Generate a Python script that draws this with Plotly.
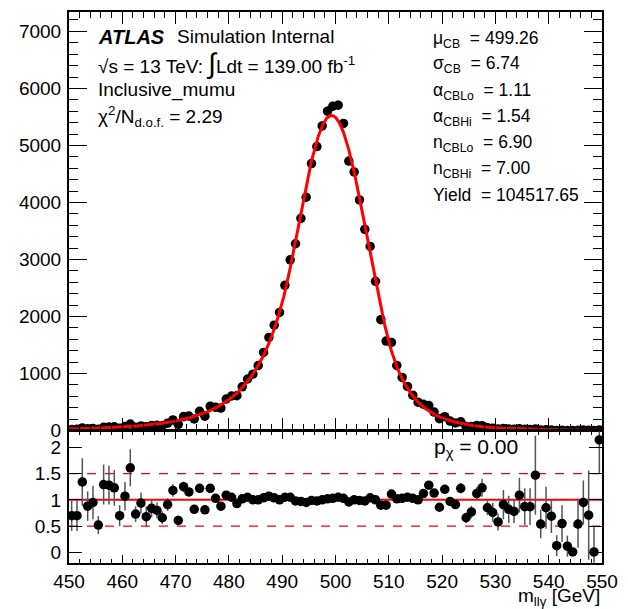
import numpy as np
import plotly.graph_objects as go

# ---------------- data ----------------
bin_low, bin_high, bin_width = 450.0, 550.0, 1.0
mass = np.arange(bin_low + bin_width / 2, bin_high, bin_width)

counts = [18.4, 20.0, 41.7, 29.8, 35.2, 21.0, 56.9, 61.7, 64.9, 40.6,
          68.2, 112.7, 56.3, 79.9, 63.8, 87.2, 91.9, 84.1, 128.8, 185.9,
          107.1, 244.9, 252.0, 201.3, 336.2, 251.1, 426.1, 406.4, 392.9, 552.2,
          604.9, 610.7, 765.5, 903, 988, 1139, 1369, 1632, 1846, 2071,
          2547, 2994, 3275, 3721, 4091, 4682, 4980, 5341, 5601, 5688,
          5705, 5386, 4726, 4534, 4044, 3528, 3228, 2617, 1943, 1568,
          1544, 1140, 931, 772, 620, 496, 460, 437, 322, 206,
          242, 166, 132, 151, 70, 70, 87.8, 83.4, 49.9, 38.8,
          25.8, 35.4, 28.0, 23.3, 28.8, 20.3, 17.9, 26.8, 8.7, 12.2,
          8.9, 1.5, 5.7, 1.1, 0.1, 4.0, 6.4, 4.3, 0.05, 10.5]

count_err = [7.6, 8.3, 14, 9.5, 11.8, 6.9, 16.8, 17.8, 18, 11.6,
             17.2, 24.5, 11.6, 17, 18.8, 17.6, 17.2, 15.3, 17, 18.9,
             15.8, 19.6, 17.5, 19.6, 19.3, 21.7, 21, 19.7, 22.3, 20.3,
             23, 23, 22.5, 25.8, 24.7, 28.5, 26.3, 30.5, 35.5, 41.4,
             48.5, 42.8, 50, 57.5, 64.6, 70.9, 76.2, 80.1, 82.4, 82.8,
             81.5, 78.4, 73.8, 68, 61.3, 54, 46.6, 39.3, 43.2, 34.9,
             27.8, 22.3, 18.1, 22.1, 18.1, 14.9, 16.4, 17.1, 14.3, 12,
             12.1, 12, 11.6, 12.4, 10.6, 10.9, 9.4, 11.5, 8.2, 9.2,
             7.1, 10.9, 8.9, 6.6, 8.7, 8.2, 7.2, 13.7, 4.4, 5.8,
             4.1, 2.3, 3.6, 1.8, 0.4, 3.3, 2.8, 5.1, 2.8, 3.2]

ratio = [0.70, 0.70, 1.34, 0.88, 0.95, 0.52, 1.29, 1.28, 1.23, 0.70,
         1.07, 1.61, 0.73, 0.94, 0.68, 0.84, 0.80, 0.66, 0.91, 1.18,
         0.61, 1.25, 1.15, 0.82, 1.22, 0.81, 1.22, 1.03, 0.88, 1.09,
         1.05, 0.93, 1.02, 1.05, 1.00, 1.00, 1.04, 1.07, 1.04, 1.00,
         1.05, 1.05, 0.98, 0.97, 0.95, 0.99, 0.98, 1.00, 1.02, 1.03,
         1.05, 1.03, 0.96, 1.00, 0.99, 0.98, 1.04, 1.00, 0.90, 0.90,
         1.11, 1.02, 1.03, 1.05, 1.03, 1.00, 1.12, 1.28, 1.13, 0.86,
         1.20, 0.97, 0.91, 1.22, 0.66, 0.77, 1.12, 1.23, 0.85, 0.76,
         0.58, 0.91, 0.82, 0.78, 1.09, 0.87, 0.87, 1.47, 0.54, 0.85,
         0.69, 0.13, 0.55, 0.12, 0.01, 0.54, 0.95, 0.71, 0.01, 2.14]

ratio_err = [0.29, 0.29, 0.45, 0.28, 0.32, 0.17, 0.38, 0.37, 0.34, 0.20,
             0.27, 0.35, 0.15, 0.20, 0.20, 0.17, 0.15, 0.12, 0.12, 0.12,
             0.09, 0.10, 0.08, 0.08, 0.07, 0.07, 0.06, 0.05, 0.05, 0.04,
             0.04, 0.035, 0.03, 0.03, 0.025, 0.025, 0.02, 0.02, 0.02, 0.02,
             0.02, 0.015, 0.015, 0.015, 0.015, 0.015, 0.015, 0.015, 0.015, 0.015,
             0.015, 0.015, 0.015, 0.015, 0.015, 0.015, 0.015, 0.015, 0.02, 0.02,
             0.02, 0.02, 0.02, 0.03, 0.03, 0.03, 0.04, 0.05, 0.05, 0.05,
             0.06, 0.07, 0.08, 0.10, 0.10, 0.12, 0.12, 0.17, 0.14, 0.18,
             0.16, 0.28, 0.26, 0.22, 0.33, 0.35, 0.35, 0.75, 0.27, 0.40,
             0.32, 0.20, 0.35, 0.20, 0.05, 0.45, 0.42, 0.85, 0.50, 0.65]

# fit parameters (as printed on the chart)
mu_cb, sigma_cb = 499.26, 6.74
alpha_lo, alpha_hi = 1.11, 1.54
n_lo, n_hi = 6.90, 7.00
fit_yield = 104517.65
chi2_ndof = 2.29
p_chi = 0.00

# ratio-panel reference levels
ratio_lines = [(1.0, "solid", 2), (0.5, "dash", 1.2), (1.5, "dash", 1.2)]


def dscb(x):
    t = (x - mu_cb) / sigma_cb
    out = np.exp(-0.5 * t * t)
    lo = t < -alpha_lo
    hi = t > alpha_hi
    out[lo] = np.exp(-0.5 * alpha_lo ** 2) * (1 + alpha_lo * (-t[lo] - alpha_lo) / n_lo) ** (-n_lo)
    out[hi] = np.exp(-0.5 * alpha_hi ** 2) * (1 + alpha_hi * (t[hi] - alpha_hi) / n_hi) ** (-n_hi)
    return out


x_fit = np.linspace(bin_low, bin_high, 2001)
shape = dscb(x_fit)
y_fit = fit_yield * bin_width * shape / np.trapezoid(shape, x_fit)

# ---------------- layout geometry ----------------
W, H = 628, 609
L, R, T, B = 69, 611, 10, 563
UP_BOTTOM, LOW_TOP = 430, 431


def px(x):
    return (x - L) / (R - L)


def py(y):
    return (B - y) / (B - T)


FONT = "Liberation Sans, Arial, Helvetica, sans-serif"

fig = go.Figure()

# upper panel
fig.add_trace(go.Scatter(
    x=mass, y=counts, mode="markers",
    marker=dict(color="black", size=9.5),
    error_y=dict(type="data", array=count_err, color="black", thickness=1, width=0),
    xaxis="x", yaxis="y", showlegend=False))
fig.add_trace(go.Scatter(
    x=x_fit, y=y_fit, mode="lines", line=dict(color="#ff0000", width=3),
    xaxis="x", yaxis="y", showlegend=False))

# lower panel: reference lines first, then points on top
for val, dash, w in ratio_lines:
    fig.add_trace(go.Scatter(
        x=[bin_low, bin_high], y=[val, val], mode="lines",
        line=dict(color="#ff0000", width=w, dash=dash),
        xaxis="x2", yaxis="y2", showlegend=False, hoverinfo="skip"))

fig.add_trace(go.Scatter(
    x=mass, y=ratio, mode="markers",
    marker=dict(color="black", size=9.5),
    error_y=dict(type="data", array=ratio_err, color="#555555", thickness=1.5, width=0),
    xaxis="x2", yaxis="y2", showlegend=False))

axis_common = dict(showline=True, linecolor="black", linewidth=2, mirror="allticks",
                   ticks="inside", tickcolor="black", showgrid=False, zeroline=False,
                   tickfont=dict(family=FONT, size=19, color="black"))

fig.update_layout(
    width=W, height=H,
    margin=dict(l=L, r=W - R, t=T, b=H - B),
    paper_bgcolor="white", plot_bgcolor="white",
    font=dict(family=FONT, color="black"),
    xaxis=dict(domain=[0, 1], anchor="y", range=[bin_low, bin_high], dtick=10, tick0=450,
               showticklabels=False, ticklen=12,
               minor=dict(dtick=2, ticklen=6, ticks="inside", tickcolor="black", showgrid=False),
               **axis_common),
    yaxis=dict(domain=[py(UP_BOTTOM), 1], anchor="x", range=[0, 7340], dtick=1000,
               ticklen=18, ticklabelstandoff=2,
               minor=dict(dtick=200, ticklen=9, ticks="inside", tickcolor="black", showgrid=False),
               **axis_common),
    xaxis2=dict(domain=[0, 1], anchor="y2", range=[bin_low, bin_high], dtick=10, tick0=450,
                ticklen=8, matches="x", ticklabelstandoff=0,
                minor=dict(dtick=2, ticklen=4, ticks="inside", tickcolor="black", showgrid=False),
                **axis_common),
    yaxis2=dict(domain=[0, py(LOW_TOP)], anchor="x2", range=[-0.2, 2.3],
                tickvals=[0, 0.5, 1, 1.5, 2], ticktext=["0", "0.5", "1", "1.5", "2"],
                ticklen=13, ticklabelstandoff=2,
                **axis_common),
)


def note(text, x, y, size=19, xanchor="left"):
    fig.add_annotation(text=text, x=px(x), y=py(y), xref="paper", yref="paper",
                       xanchor=xanchor, yanchor="middle", showarrow=False,
                       font=dict(family=FONT, size=size, color="black"))


note("<b><i>ATLAS</i></b>", 96, 35, size=20)
note("Simulation Internal", 177, 35)
note("√s = 13 TeV: <span style='font-size:28px'>∫</span>Ldt = 139.00 fb<sup>-1</sup>", 96, 62)
note("Inclusive_mumu", 96, 88)
note(f"χ<sup>2</sup>/N<sub>d.o.f.</sub> = {chi2_ndof:.2f}", 96, 115)

params = [("μ<sub>CB</sub>", f"{mu_cb:.2f}"),
          ("σ<sub>CB</sub>", f"{sigma_cb:.2f}"),
          ("α<sub>CBLo</sub>", f"{alpha_lo:.2f}"),
          ("α<sub>CBHi</sub>", f"{alpha_hi:.2f}"),
          ("n<sub>CBLo</sub>", f"{n_lo:.2f}"),
          ("n<sub>CBHi</sub>", f"{n_hi:.2f}"),
          ("Yield", f"{fit_yield:.2f}")]
row_y = [38, 63, 90, 116, 142, 168, 194]
for (name, val), yy in zip(params, row_y):
    note(f"{name}  = {val}", 437, yy, size=17.5)

note(f"p<sub>χ</sub> = {p_chi:.2f}", 438, 448, size=21)
note("m<sub>llγ</sub> [GeV]", 611, 597, size=19, xanchor="right")

fig.write_html("out.html")
